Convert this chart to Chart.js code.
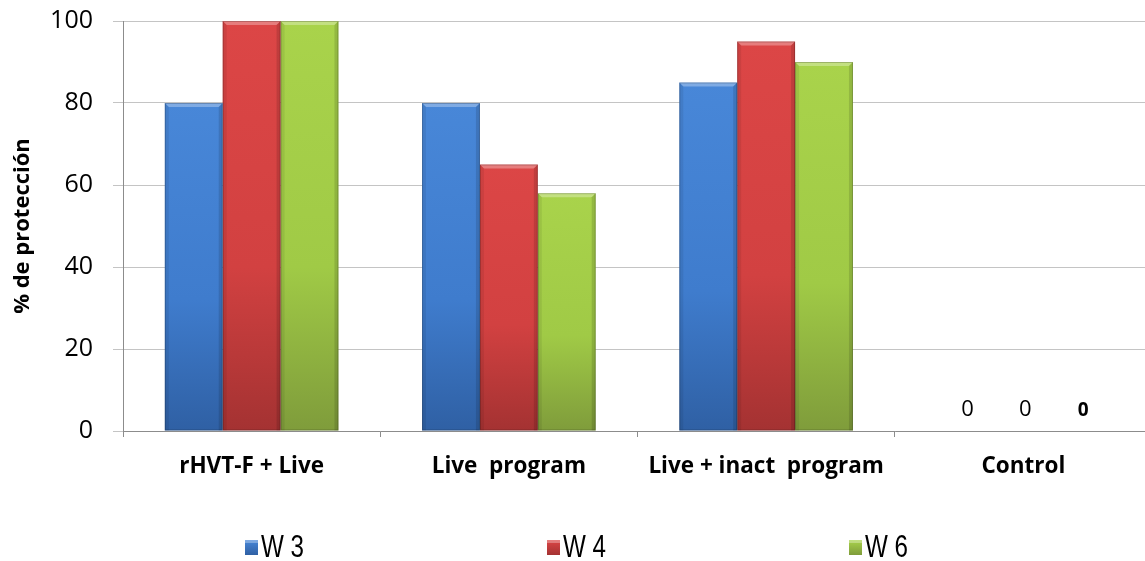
<!DOCTYPE html>
<html>
<head>
<meta charset="utf-8">
<script src="https://cdn.jsdelivr.net/npm/chart.js@4.4.1/dist/chart.umd.min.js"></script>
<style>
  html, body { margin: 0; padding: 0; background: #ffffff; overflow: hidden; }
  #wrap { width: 1145px; height: 561px; overflow: hidden; }
</style>
</head>
<body>
<div id="wrap"><canvas id="chart" width="1152" height="561"></canvas></div>
<script>
// Protection (%) per vaccination programme, by week after challenge
const categories = ['rHVT-F + Live', 'Live  program', 'Live + inact  program', 'Control'];
const seriesNames = ['W 3', 'W 4', 'W 6'];
const w3Values = [80, 80, 85, 0];
const w4Values = [100, 65, 95, 0];
const w6Values = [100, 58, 90, 0];
const yTickValues = [0, 20, 40, 60, 80, 100];
const labelledCategory = 'Control';

const seriesValues = [w3Values, w4Values, w6Values];

// Bar shading: lighter at the top, darker toward the base
const palette = [
  { top: '#4887d8', mid: '#3f7ccd', bottom: '#2f60a4' },
  { top: '#dc4646', mid: '#d24141', bottom: '#a43232' },
  { top: '#a9d34b', mid: '#a0ca46', bottom: '#7f9c3b' }
];
const valueLabelFonts = ['22px "Open Sans"', '22px "Open Sans"', 'bold 19px "Open Sans"'];

function barFill(context, i) {
  const chart = context.chart;
  const area = chart.chartArea;
  if (!area || context.raw === undefined) return palette[i].mid;
  const yScale = chart.scales.y;
  const top = yScale.getPixelForValue(context.raw);
  const base = yScale.getPixelForValue(0);
  if (!(base - top > 1)) return palette[i].mid;
  const g = chart.ctx.createLinearGradient(0, top, 0, base);
  g.addColorStop(0, palette[i].top);
  g.addColorStop(0.6, palette[i].mid);
  g.addColorStop(1, palette[i].bottom);
  return g;
}

// Bevelled edges on each bar
const bevelPlugin = {
  id: 'bevel',
  afterDatasetsDraw(chart) {
    const c = chart.ctx;
    chart.data.datasets.forEach((ds, di) => {
      chart.getDatasetMeta(di).data.forEach(bar => {
        const p = bar.getProps(['x', 'y', 'base', 'width'], true);
        const l = p.x - p.width / 2, r = p.x + p.width / 2;
        const y = p.y, base = p.base, h = base - y;
        if (h < 3) return;
        const b = 4;
        c.save();
        c.fillStyle = 'rgba(255,255,255,0.30)';
        c.beginPath();
        c.moveTo(l, y); c.lineTo(r, y); c.lineTo(r - b, y + b); c.lineTo(l + b, y + b);
        c.closePath(); c.fill();
        c.fillStyle = 'rgba(0,0,0,0.07)';
        c.beginPath();
        c.moveTo(l, y); c.lineTo(l + b, y + b); c.lineTo(l + b, base); c.lineTo(l, base);
        c.closePath(); c.fill();
        c.fillStyle = 'rgba(0,0,0,0.12)';
        c.beginPath();
        c.moveTo(r, y); c.lineTo(r - b, y + b); c.lineTo(r - b, base); c.lineTo(r, base);
        c.closePath(); c.fill();
        c.strokeStyle = 'rgba(0,0,0,0.2)';
        c.lineWidth = 1;
        c.strokeRect(l + 0.5, y + 0.5, p.width - 1, h - 1);
        c.restore();
      });
    });
  }
};

// Value labels for the zero-height bars
const valueLabelPlugin = {
  id: 'valueLabels',
  afterDatasetsDraw(chart) {
    const idx = chart.data.labels.indexOf(labelledCategory);
    if (idx < 0) return;
    const c = chart.ctx;
    c.save();
    c.fillStyle = '#000';
    c.textAlign = 'center';
    c.textBaseline = 'alphabetic';
    chart.data.datasets.forEach((ds, di) => {
      const bar = chart.getDatasetMeta(di).data[idx];
      const p = bar.getProps(['x', 'y'], true);
      c.font = valueLabelFonts[di];
      c.fillText(String(ds.data[idx]), p.x + 2, p.y - 15);
    });
    c.restore();
  }
};

// Legend row below the axis
const legendPlugin = {
  id: 'bottomLegend',
  afterDraw(chart) {
    const c = chart.ctx;
    const spacing = 302;
    const cy = 547;
    c.save();
    c.font = '31px "Liberation Sans", "DejaVu Sans"';
    c.textBaseline = 'middle';
    c.textAlign = 'left';
    chart.data.datasets.forEach((ds, i) => {
      const cx = chart.width / 2 + (i - 1) * spacing + 2;
      const left = cx - 31;
      const g = c.createLinearGradient(0, cy - 7, 0, cy + 8);
      g.addColorStop(0, palette[i].top);
      g.addColorStop(1, palette[i].bottom);
      c.fillStyle = g;
      c.fillRect(left, cy - 7, 13, 15);
      c.fillStyle = 'rgba(255,255,255,0.3)';
      c.fillRect(left, cy - 7, 13, 3);
      c.fillStyle = '#000';
      c.save();
      c.translate(left + 16, cy + 1);
      c.scale(0.78, 1);
      c.fillText(ds.label, 0, 0);
      c.restore();
    });
    c.restore();
  }
};

new Chart(document.getElementById('chart').getContext('2d'), {
  type: 'bar',
  data: {
    labels: categories,
    datasets: seriesValues.map((d, i) => ({
      label: seriesNames[i],
      data: d,
      backgroundColor: ctx => barFill(ctx, i),
      borderWidth: 0,
      categoryPercentage: 0.675,
      barPercentage: 1
    }))
  },
  options: {
    responsive: false,
    animation: false,
    devicePixelRatio: 1,
    layout: { padding: { top: 21, right: 0, bottom: 70, left: 0 } },
    plugins: {
      legend: { display: false },
      tooltip: { enabled: false }
    },
    scales: {
      x: {
        offset: true,
        grid: { display: true, drawOnChartArea: false, drawTicks: true, tickLength: 6, color: '#8c8c8c', offset: true },
        border: { color: '#8c8c8c' },
        ticks: {
          color: '#000',
          font: { family: '"Open Sans"', size: 22.5, weight: 'bold' },
          padding: 16,
          maxRotation: 0,
          autoSkip: false
        },
        afterFit: s => { s.height = 60; s.paddingLeft = 0; s.paddingRight = 0; }
      },
      y: {
        min: 0,
        max: 100,
        afterBuildTicks: s => { s.ticks = yTickValues.map(v => ({ value: v })); },
        grid: { color: '#c4c4c4', tickLength: 10 },
        border: { color: '#8c8c8c' },
        ticks: {
          color: '#000',
          font: { family: '"Open Sans"', size: 25 },
          padding: 20
        },
        title: {
          display: true,
          text: '% de protección',
          color: '#000',
          font: { family: '"Open Sans"', size: 22, weight: 'bold' },
          padding: { top: 10, bottom: 0 }
        },
        afterFit: s => { s.width = 123; s.paddingTop = 0; s.paddingBottom = 0; }
      }
    }
  },
  plugins: [bevelPlugin, valueLabelPlugin, legendPlugin]
});
</script>
</body>
</html>
